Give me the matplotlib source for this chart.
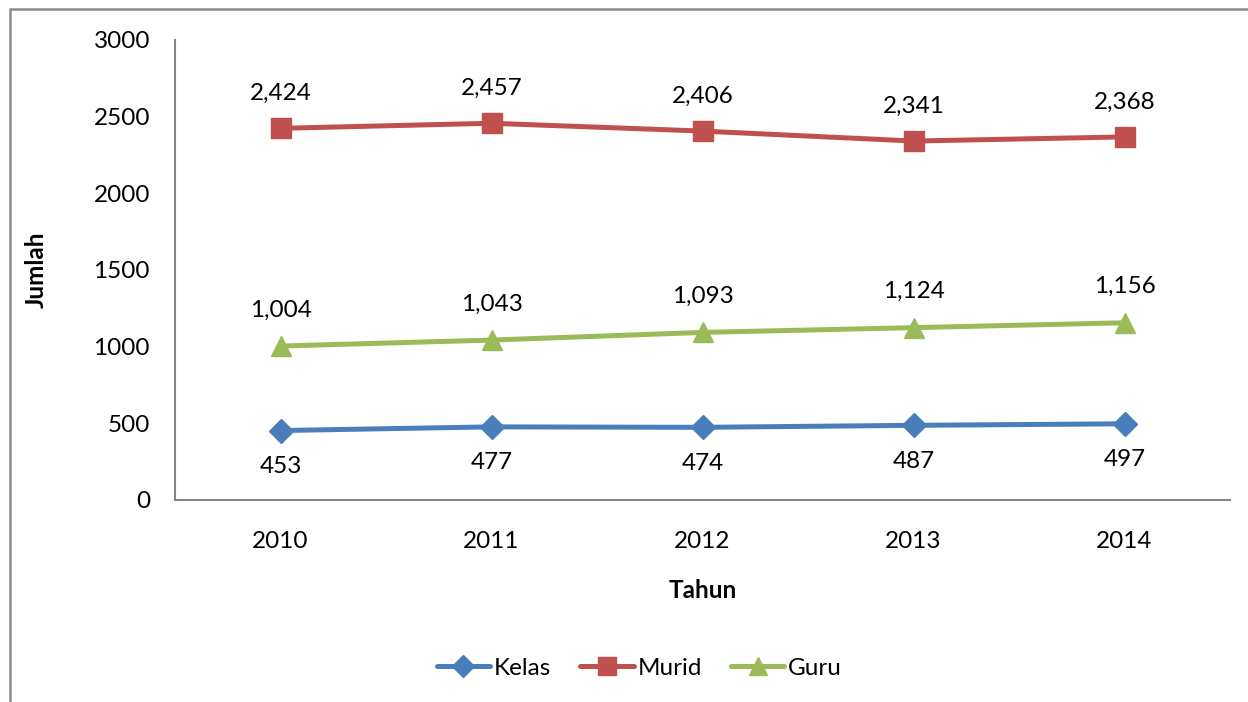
import matplotlib
matplotlib.use("Agg")
import matplotlib.pyplot as plt
from matplotlib.patches import Rectangle

years = ["2010", "2011", "2012", "2013", "2014"]
kelas = [453, 477, 474, 487, 497]
murid = [2424, 2457, 2406, 2341, 2368]
guru = [1004, 1043, 1093, 1124, 1156]

plt.rcParams['font.family'] = ['Lato', 'DejaVu Sans']

fig = plt.figure(figsize=(12.48, 7.02), dpi=100)
ax = fig.add_axes([175/1248, 1-500/702, (1230-175)/1248, 460/702])

x = list(range(len(years)))

#series: name, values, colour, marker, size, label offset in points
series = [
    ("Kelas", kelas, "#4A7EBB", "D", 12, -26),
    ("Murid", murid, "#C0504D", "s", 14, 25),
    ("Guru", guru, "#9BBB59", "^", 14, 26),
]
for name, vals, col, mk, ms, off in series:
    ax.plot(x, vals, color=col, linewidth=3.6, marker=mk, markersize=ms,
            label=name, solid_capstyle='round')
    for xi, v in zip(x, vals):
        ax.annotate(f"{v:,}", (xi, v), xytext=(0, off), textcoords='offset points',
                    ha='center', va='center', fontsize=17.5)

ax.set_xlim(-0.5, len(years) - 0.5)
ax.set_ylim(0, 3000)
ax.set_yticks([0, 500, 1000, 1500, 2000, 2500, 3000])
ax.set_xticks(x)
ax.set_xticklabels(years)
ax.tick_params(length=0, labelsize=17.5)
ax.tick_params(axis='y', pad=18)
ax.tick_params(axis='x', pad=22)

for s in ['top', 'right']:
    ax.spines[s].set_visible(False)
for s in ['left', 'bottom']:
    ax.spines[s].set_color('#868686')
    ax.spines[s].set_linewidth(1.5)

ax.set_xlabel("Tahun", fontsize=17.5, fontweight='bold', labelpad=20)
ax.set_ylabel("Jumlah", fontsize=17.5, fontweight='bold', labelpad=33)

ax.legend(loc='upper center', bbox_to_anchor=(0.44, -0.295), ncol=3, frameon=False,
          fontsize=17.5, handlelength=2.2, handletextpad=0.15, columnspacing=1.2,
          markerscale=0.9)

#outer chart border
fig.patches.append(Rectangle((10/1248, -0.1), 1.2, 1.1 - 9/702, transform=fig.transFigure,
                             fill=False, edgecolor='#8c8c8c', linewidth=1.8))

fig.savefig("out.png", dpi=100)
